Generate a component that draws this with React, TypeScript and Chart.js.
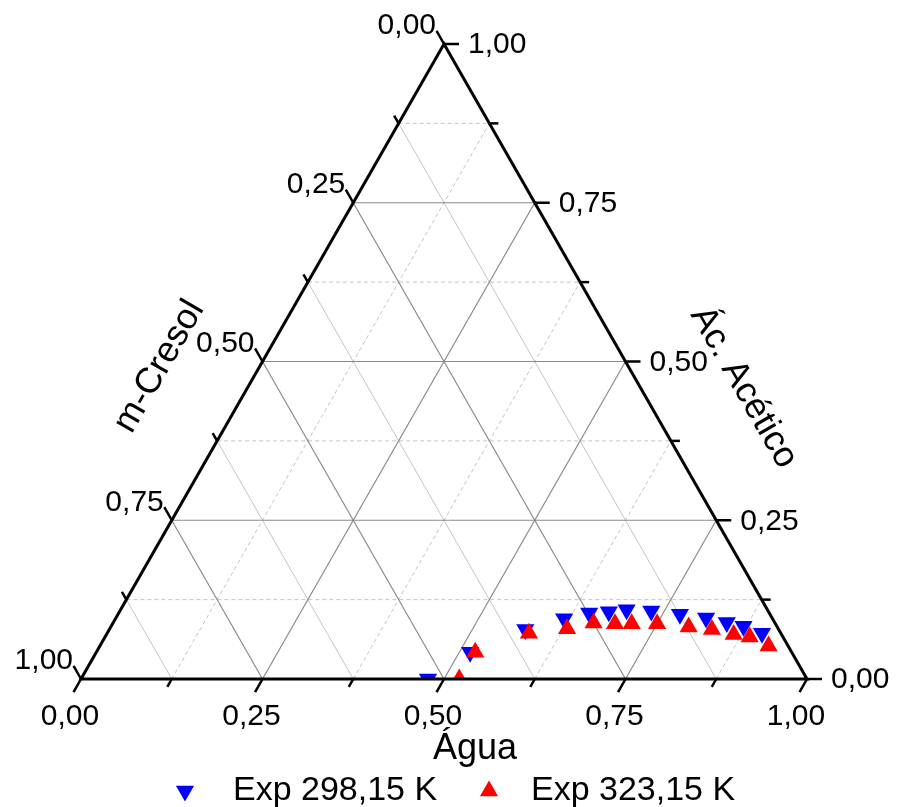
import React, { useEffect, useRef } from 'react';
import { Chart, registerables } from 'chart.js';

Chart.register(...registerables);

// Tick values / labels shared by the three ternary axes
const tickValues = [0, 0.25, 0.5, 0.75, 1];
const tickLabels = ['0,00', '0,25', '0,50', '0,75', '1,00'];
const minorValues = [0.125, 0.375, 0.625, 0.875];

const titleBottom = 'Água';
const titleRight = 'Ác. Acético';
const titleLeft = 'm-Cresol';
const seriesNames = ['Exp 298,15 K', 'Exp 323,15 K'];

// Mass fractions (Água, Ác. Acético); m-Cresol = 1 - both
const agua298 = [0.478, 0.515, 0.573, 0.618, 0.648, 0.674, 0.697, 0.732, 0.774, 0.813, 0.845, 0.871, 0.902];
const acetico298 = [0.0, 0.042, 0.078, 0.095, 0.104, 0.106, 0.109, 0.107, 0.102, 0.096, 0.089, 0.083, 0.072];
const agua323 = [0.521, 0.522, 0.581, 0.630, 0.662, 0.692, 0.715, 0.750, 0.796, 0.830, 0.864, 0.888, 0.921];
const acetico323 = [0.0, 0.042, 0.072, 0.079, 0.088, 0.087, 0.087, 0.087, 0.082, 0.078, 0.070, 0.066, 0.052];

const FONT = '"Liberation Sans", Arial, sans-serif';
const MARKER_R = 10.5;

const toXY = (ag: number, ac: number) => ({ x: ag + ac / 2, y: ac });

const ternaryPlugin = {
  id: 'ternaryAxes',
  beforeDatasetsDraw(chart: any) {
    const { ctx } = chart;
    const xs = chart.scales.x;
    const ys = chart.scales.y;
    const P = (ag: number, ac: number) => [xs.getPixelForValue(ag + ac / 2), ys.getPixelForValue(ac)];
    const seg = (a: number[], b: number[], color: string, w: number, dash: number[]) => {
      ctx.beginPath();
      ctx.setLineDash(dash);
      ctx.strokeStyle = color;
      ctx.lineWidth = w;
      ctx.moveTo(a[0], a[1]);
      ctx.lineTo(b[0], b[1]);
      ctx.stroke();
    };
    ctx.save();
    const all = [...minorValues, ...tickValues.slice(1, 4)];
    all.forEach((k) => {
      const major = tickValues.includes(k);
      const majC = '#8a8a8a';
      const minC = '#c4c4c4';
      // constant Ác. Acético (horizontal)
      seg(P(0, k), P(1 - k, k), major ? majC : minC, major ? 1.2 : 1, major ? [] : [4, 3]);
      // constant Água (parallel to left side)
      seg(P(k, 0), P(k, 1 - k), major ? majC : minC, major ? 1.2 : 1, major ? [] : [4, 3]);
      // constant m-Cresol (parallel to right side)
      seg(P(1 - k, 0), P(0, 1 - k), major ? majC : minC, major ? 1.2 : 1, []);
    });
    ctx.restore();
  },
  afterDatasetsDraw(chart: any) {
    const { ctx } = chart;
    const xs = chart.scales.x;
    const ys = chart.scales.y;
    const P = (ag: number, ac: number) => [xs.getPixelForValue(ag + ac / 2), ys.getPixelForValue(ac)];
    const unit = (a: number[], b: number[]) => {
      const dx = b[0] - a[0];
      const dy = b[1] - a[1];
      const l = Math.hypot(dx, dy);
      return [dx / l, dy / l];
    };
    ctx.save();
    ctx.setLineDash([]);
    // triangle frame
    const A = P(0, 0);
    const B = P(1, 0);
    const C = P(0, 1);
    ctx.beginPath();
    ctx.moveTo(A[0], A[1]);
    ctx.lineTo(B[0], B[1]);
    ctx.lineTo(C[0], C[1]);
    ctx.closePath();
    ctx.strokeStyle = '#000';
    ctx.lineWidth = 3;
    ctx.lineJoin = 'miter';
    ctx.stroke();

    const allTicks = [...tickValues, ...minorValues];
    ctx.lineWidth = 2.5;
    ctx.lineCap = 'butt';
    allTicks.forEach((k) => {
      const major = tickValues.includes(k);
      const len = major ? 15 : 9;
      // bottom (Água)
      let p = P(k, 0);
      let d = unit(p, P(k, -1));
      ctx.beginPath();
      ctx.moveTo(p[0], p[1]);
      ctx.lineTo(p[0] + d[0] * len, p[1] + d[1] * len);
      ctx.stroke();
      // right (Ác. Acético)
      p = P(1 - k, k);
      d = unit(p, P(2 - k, k));
      ctx.beginPath();
      ctx.moveTo(p[0], p[1]);
      ctx.lineTo(p[0] + d[0] * len, p[1] + d[1] * len);
      ctx.stroke();
      // left (m-Cresol)
      p = P(0, 1 - k);
      d = unit(p, P(-1, 2 - k));
      ctx.beginPath();
      ctx.moveTo(p[0], p[1]);
      ctx.lineTo(p[0] + d[0] * len, p[1] + d[1] * len);
      ctx.stroke();
    });

    // tick labels
    ctx.fillStyle = '#000';
    ctx.font = `30px ${FONT}`;
    ctx.textBaseline = 'middle';
    tickValues.forEach((k, i) => {
      let p = P(k, 0);
      ctx.textAlign = 'center';
      ctx.fillText(tickLabels[i], p[0] - 11, p[1] + 38);
      p = P(1 - k, k);
      ctx.textAlign = 'left';
      ctx.fillText(tickLabels[i], p[0] + 24, p[1] + 1);
      p = P(0, 1 - k);
      ctx.textAlign = 'right';
      ctx.fillText(tickLabels[i], p[0] - 8, p[1] - 18);
    });

    // axis titles
    ctx.font = `36px ${FONT}`;
    ctx.textAlign = 'center';
    const pb = P(0.5, 0);
    ctx.fillText(titleBottom, pb[0] + 31, pb[1] + 70);

    const pl = P(0, 0.5);
    ctx.save();
    ctx.translate(pl[0] - 103, pl[1] + 5);
    ctx.rotate(-Math.PI / 3);
    ctx.fillText(titleLeft, 0, 0);
    ctx.restore();

    const pr = P(0.5, 0.5);
    ctx.save();
    ctx.translate(pr[0] + 118, pr[1] + 26);
    ctx.rotate(Math.PI / 3);
    ctx.fillText(titleRight, 0, 0);
    ctx.restore();

    // legend
    const ly = 791;
    const drawTri = (cx: number, cy: number, down: boolean, color: string) => {
      const r = MARKER_R;
      ctx.beginPath();
      for (let j = 0; j < 3; j++) {
        const a = (down ? Math.PI : 0) + (j * 2 * Math.PI) / 3;
        const px = cx + Math.sin(a) * r;
        const py = cy - Math.cos(a) * r;
        if (j === 0) ctx.moveTo(px, py);
        else ctx.lineTo(px, py);
      }
      ctx.closePath();
      ctx.fillStyle = color;
      ctx.fill();
    };
    drawTri(185, ly, true, '#0000ff');
    drawTri(489, ly, false, '#ff0000');
    ctx.fillStyle = '#000';
    ctx.font = `34px ${FONT}`;
    ctx.textAlign = 'left';
    ctx.fillText(seriesNames[0], 233, ly);
    ctx.fillText(seriesNames[1], 531, ly);
    ctx.restore();
  },
};

export default function App() {
  const ref = useRef<HTMLCanvasElement | null>(null);
  useEffect(() => {
    document.body.style.margin = '0';
    const canvas = ref.current;
    if (!canvas) return;
    const chart = new Chart(canvas, {
      type: 'scatter',
      data: {
        datasets: [
          {
            label: seriesNames[0],
            data: agua298.map((a, i) => toXY(a, acetico298[i])),
            pointStyle: 'triangle',
            pointRotation: 180,
            pointRadius: MARKER_R,
            pointHoverRadius: MARKER_R,
            pointBackgroundColor: '#0000ff',
            pointBorderWidth: 0,
            backgroundColor: '#0000ff',
            borderColor: '#0000ff',
            order: 1,
          },
          {
            label: seriesNames[1],
            data: agua323.map((a, i) => toXY(a, acetico323[i])),
            pointStyle: 'triangle',
            pointRadius: MARKER_R,
            pointHoverRadius: MARKER_R,
            pointBackgroundColor: '#ff0000',
            pointBorderWidth: 0,
            backgroundColor: '#ff0000',
            borderColor: '#ff0000',
            order: 0,
          },
        ],
      } as any,
      options: {
        responsive: false,
        animation: false,
        devicePixelRatio: 1,
        layout: { padding: { left: 81, right: 90, top: 44, bottom: 128 } },
        scales: {
          x: { type: 'linear', min: 0, max: 1, display: false },
          y: { type: 'linear', min: 0, max: 1, display: false },
        },
        plugins: { legend: { display: false }, tooltip: { enabled: false } },
      } as any,
      plugins: [ternaryPlugin],
    });
    return () => chart.destroy();
  }, []);
  return (
    <div style={{ position: 'absolute', left: 0, top: 0, width: 897, height: 807, background: '#fff' }}>
      <canvas ref={ref} width={897} height={807} style={{ width: 897, height: 807, display: 'block' }} />
    </div>
  );
}
